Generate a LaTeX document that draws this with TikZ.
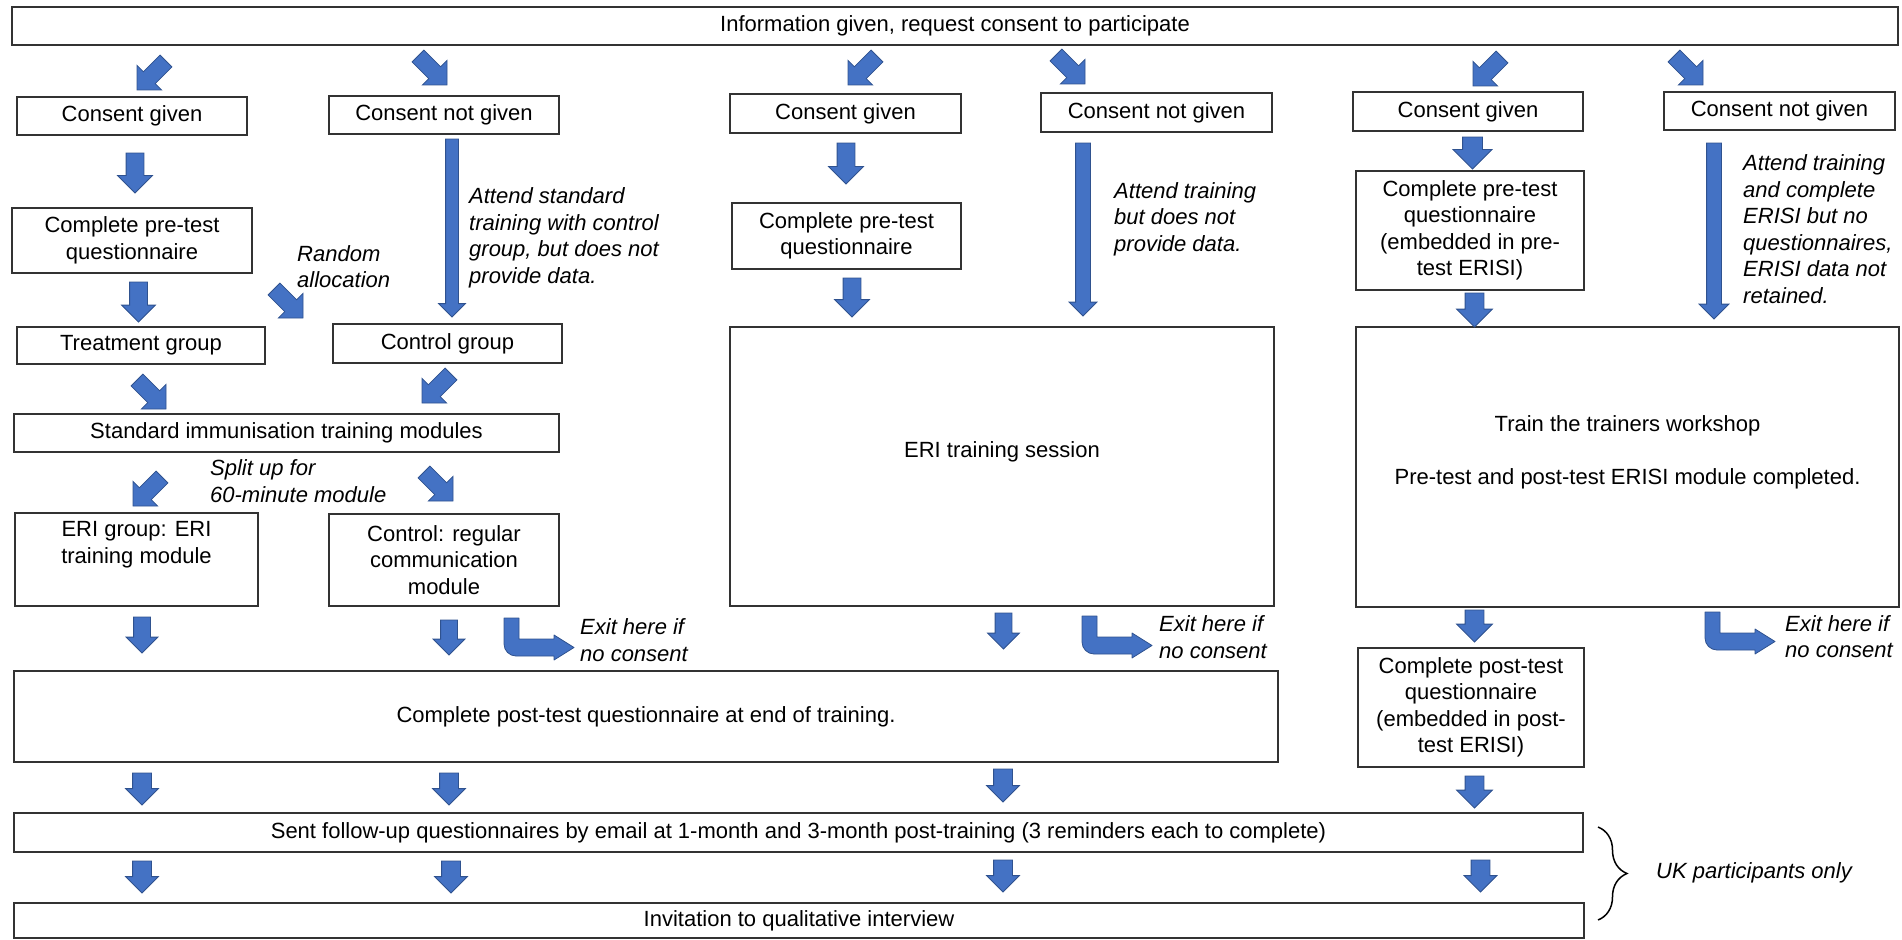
\documentclass[tikz,border=0pt]{standalone}
\usepackage{fontspec}
\setmainfont{Liberation Sans}
\usetikzlibrary{shapes.arrows,decorations.pathreplacing}
\definecolor{arrowblue}{HTML}{4472C4}
\definecolor{arrowedge}{HTML}{2F528F}
\newcommand\mybox[6]{\node[box, minimum width={#4-#2}, minimum height={#5-#3}] (#1) at ({(#2+#4)/2},{(#3+#5)/2}) {#6};}
% name, tip x, tip y, angle, length, head width, head extend
\newcommand\blk[7]{\node[barrow, minimum height=#5pt, inner ysep={(#6-2*#7)/2}, single arrow head extend=#7pt, rotate=#4] (#1) at (#2,#3) {};}
\newcommand\bentarr[2]{\draw[bentstyle, shift={(#1,#2)}] (0,0) -- (0,26) .. controls (0,32.6) and (5.4,38) .. (12,38) -- (50,38) -- (50,42) -- (70,29.5) -- (50,17) -- (50,21) -- (15,21) -- (15,0) -- cycle;}
\begin{document}
\begin{tikzpicture}[x=1pt,y=-1pt,
  box/.style={draw=black!80, line width=1.4pt, fill=white, align=center, inner sep=2pt, font=\fontsize{22}{26.5}\selectfont},
  note/.style={align=left, anchor=west, inner sep=0pt, font=\fontsize{22}{26.5}\selectfont\itshape},
  barrow/.style={single arrow, draw=arrowedge, line width=0.8pt, fill=arrowblue, single arrow tip angle=90, anchor=tip, inner xsep=0pt, outer sep=0pt},
  bentstyle/.style={draw=arrowedge, line width=0.8pt, fill=arrowblue, line join=round},
  bracestyle/.style={draw=black, line width=1.5pt, decorate, decoration={brace, amplitude=29pt}}
]
\useasboundingbox (0,0) rectangle (1902,939);

% boxes
\mybox{top}{12}{7}{1898}{45}{Information given, request consent to participate}
\mybox{cg1}{17}{97}{247}{135}{Consent given}
\mybox{cng1}{329}{96}{559}{134}{Consent not given}
\mybox{pre1}{12}{208}{252}{273}{Complete pre-test\\questionnaire}
\mybox{treat}{17}{327}{265}{364}{Treatment group}
\mybox{ctrl}{333}{324}{562}{363}{Control group}
\mybox{std}{14}{414}{559}{452}{Standard immunisation training modules}
\mybox{eri}{15}{513}{258}{606}{ERI group: ERI\\training module\\\strut}
\mybox{creg}{329}{514}{559}{606}{Control: regular\\communication\\module}
\mybox{post}{14}{671}{1278}{762}{Complete post-test questionnaire at end of training.}
\mybox{sent}{14}{813}{1583}{852}{Sent follow-up questionnaires by email at 1-month and 3-month post-training (3 reminders each to complete)}
\mybox{inv}{14}{903}{1584}{938}{Invitation to qualitative interview}
\mybox{cg2}{730}{94}{961}{133}{Consent given}
\mybox{cng2}{1041}{93}{1272}{132}{Consent not given}
\mybox{pre2}{732}{203}{961}{269}{Complete pre-test\\questionnaire}
\mybox{eris}{730}{327}{1274}{606}{ERI training session\\\strut}
\mybox{cg3}{1353}{92}{1583}{131}{Consent given}
\mybox{cng3}{1664}{92}{1895}{130}{Consent not given}
\mybox{pre3}{1356}{171}{1584}{290}{Complete pre-test\\questionnaire\\(embedded in pre-\\test ERISI)}
\mybox{ttt}{1356}{327}{1899}{607}{Train the trainers workshop\\\strut\\Pre-test and post-test ERISI module completed.\\\strut}
\mybox{post3}{1358}{648}{1584}{767}{Complete post-test\\questionnaire\\(embedded in post-\\test ERISI)}

% diagonal block arrows
\blk{d1}{137}{90}{-135}{41}{34}{9}
\blk{d2}{447}{85}{-45}{41}{34}{9}
\blk{d3}{848}{85}{-135}{41}{34}{9}
\blk{d4}{1085}{84}{-45}{41}{34}{9}
\blk{d5}{1473}{86}{-135}{41}{34}{9}
\blk{d6}{1703}{85}{-45}{41}{34}{9}
\blk{d7}{303}{318}{-45}{41}{34}{9}
\blk{d8}{166}{409}{-45}{41}{34}{9}
\blk{d9}{422}{403}{-135}{41}{34}{9}
\blk{d10}{133}{506}{-135}{41}{34}{9}
\blk{d11}{453}{501}{-45}{41}{34}{9}

% vertical block arrows
\blk{a1}{135}{193}{-90}{40}{34}{8.5}
\blk{a2}{138.5}{322}{-90}{40}{33}{8}
\blk{a3}{452}{317}{-90}{178}{26}{7}
\blk{a4}{142}{653}{-90}{36}{31}{7.5}
\blk{a5}{449}{655}{-90}{35}{31}{7.5}
\blk{a6}{142}{805}{-90}{32}{32}{7}
\blk{a7}{449}{805}{-90}{32}{32}{7}
\blk{a8}{142}{893}{-90}{32}{32}{7}
\blk{a9}{451}{893}{-90}{32}{32}{7}
\blk{m1}{846}{184}{-90}{41}{34}{8.5}
\blk{m2}{852}{317}{-90}{39}{34}{8.5}
\blk{m3}{1083}{316}{-90}{173}{27}{6.5}
\blk{m4}{1003.5}{649}{-90}{36}{31}{7.5}
\blk{m5}{1003}{802}{-90}{33}{32}{7}
\blk{m6}{1003}{892}{-90}{32}{32}{7}
\blk{r1}{1472.5}{169}{-90}{32}{38}{9.5}
\blk{r2}{1474.5}{327}{-90}{34}{35}{8.5}
\blk{r3}{1714}{319}{-90}{176}{29}{7.5}
\blk{r4}{1474.5}{642}{-90}{32}{35}{8.5}
\blk{r5}{1474.5}{808}{-90}{32}{35}{8.5}
\blk{r6}{1480.5}{892}{-90}{32}{32}{7}

% bent exit arrows
\bentarr{504}{618}
\bentarr{1082}{616}
\bentarr{1705}{612}

% italic notes
\node[note] (nrand) at (297,266.5) {Random\\allocation};
\node[note] (natt1) at (469,238) {Attend standard\\training with control\\group, but does not\\provide data.};
\node[note] (natt2) at (1114,219) {Attend training\\but does not\\provide data.};
\node[note] (natt3) at (1743,229) {Attend training\\and complete\\ERISI but no\\questionnaires,\\ERISI data not\\retained.};
\node[note] (nsplit) at (210,481) {Split up for\\60-minute module};
\node[note] (nexit1) at (580,640) {Exit here if\\no consent};
\node[note] (nexit2) at (1159,637) {Exit here if\\no consent};
\node[note] (nexit3) at (1785,636.5) {Exit here if\\no consent};
\node[note] (nuk) at (1656,873) {UK participants only};

% brace
\coordinate (brtop) at (1598,827);
\coordinate (brbot) at (1598,920);
\draw[bracestyle] (brtop) -- (brbot);
\end{tikzpicture}
\end{document}
